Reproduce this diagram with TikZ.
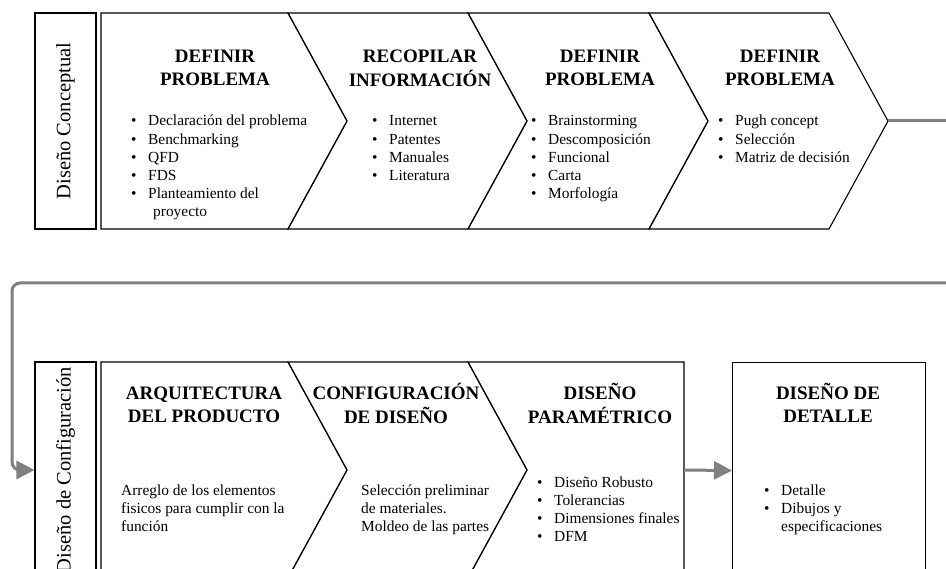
\documentclass[tikz,border=0pt]{standalone}
\usepackage{fontspec}
\setmainfont{Liberation Serif}
\usetikzlibrary{arrows.meta}
\newcommand\itm{\makebox[17pt][l]{\textbullet}}
\begin{document}
\begin{tikzpicture}[x=1pt,y=-1pt,
  chev/.style={draw=black, line width=1.1pt, line join=miter},
  ttl/.style={anchor=base, inner sep=0pt, font=\fontsize{19}{22.5}\selectfont\bfseries},
  lst/.style={anchor=base west, inner sep=0pt, font=\fontsize{15.4}{18.2}\selectfont},
  vlab/.style={rotate=90, inner sep=0pt, font=\fontsize{20.5}{24}\selectfont},
  labbox/.style={draw, line width=1.1pt, minimum width=61pt, minimum height=216pt, inner sep=0pt},
  conn/.style={draw=gray, line width=3pt},
  arr/.style={-{Triangle[length=18pt,width=18pt]}}
]
\clip (0,0) rectangle (946,569);
\fill[white] (0,0) rectangle (946,569);

% ---------- top row ----------
\node[labbox] (lab1) at (65.5,121) {};
\node[vlab] (v1) at (lab1.center) {Diseño Conceptual};

\draw[chev] (101,13) -- (288,13) -- (347,121) -- (288,229) -- (101,229) -- cycle;
\draw[chev] (288,13) -- (468,13) -- (527,121) -- (468,229) -- (288,229) -- (347,121) -- cycle;
\draw[chev] (468,13) -- (649,13) -- (708,121) -- (649,229) -- (468,229) -- (527,121) -- cycle;
\draw[chev] (649,13) -- (829,13) -- (888,121) -- (829,229) -- (649,229) -- (708,121) -- cycle;

\node[ttl] (t1) at (215,63) {\begin{tabular}[t]{@{}c@{}}DEFINIR\\PROBLEMA\end{tabular}};
\node[lst] (l1) at (131,126) {\begin{tabular}[t]{@{}l@{}}\itm Declaración del problema\\ \itm Benchmarking\\ \itm QFD\\ \itm FDS\\ \itm Planteamiento del\\ \hspace*{22pt}proyecto\end{tabular}};

\node[ttl] (t2) at (420,63) {\begin{tabular}[t]{@{}c@{}}RECOPILAR\\INFORMACIÓN\end{tabular}};
\node[lst] (l2) at (372,126) {\begin{tabular}[t]{@{}l@{}}\itm Internet\\ \itm Patentes\\ \itm Manuales\\ \itm Literatura\end{tabular}};

\node[ttl] (t3) at (600,63) {\begin{tabular}[t]{@{}c@{}}DEFINIR\\PROBLEMA\end{tabular}};
\node[lst] (l3) at (531,126) {\begin{tabular}[t]{@{}l@{}}\itm Brainstorming\\ \itm Descomposición\\ \itm Funcional\\ \itm Carta\\ \itm Morfología\end{tabular}};

\node[ttl] (t4) at (780,63) {\begin{tabular}[t]{@{}c@{}}DEFINIR\\PROBLEMA\end{tabular}};
\node[lst] (l4) at (718,126) {\begin{tabular}[t]{@{}l@{}}\itm Pugh concept\\ \itm Selección\\ \itm Matriz de decisión\end{tabular}};

\coordinate (c4tip) at (888,121);
\coordinate (rend1) at (952,121);
\draw[conn] (c4tip) -- (rend1);

% ---------- bottom row ----------
\node[labbox] (lab2) at (65.5,470) {};
\node[vlab] (v2) at (lab2.center) {Diseño de Configuración};

\draw[chev] (101,362) -- (288,362) -- (347,470) -- (288,578) -- (101,578) -- cycle;
\draw[chev] (288,362) -- (468,362) -- (527,470) -- (468,578) -- (288,578) -- (347,470) -- cycle;
\draw[chev] (468,362) -- (684,362) -- (684,578) -- (468,578) -- (527,470) -- cycle;
\node[labbox, minimum width=193pt, anchor=north west] (b4) at (732,362) {};

\node[ttl] (t5) at (204,400) {\begin{tabular}[t]{@{}c@{}}ARQUITECTURA\\DEL PRODUCTO\end{tabular}};
\node[lst] (p5) at (121,495) {\begin{tabular}[t]{@{}l@{}}Arreglo de los elementos\\ fisicos para cumplir con la\\ función\end{tabular}};

\node[ttl] (t6) at (396,400) {\begin{tabular}[t]{@{}c@{}}CONFIGURACIÓN\\DE DISEÑO\end{tabular}};
\node[lst] (p6) at (361,495) {\begin{tabular}[t]{@{}l@{}}Selección preliminar\\ de materiales.\\ Moldeo de las partes\end{tabular}};

\node[ttl] (t7) at (600,400) {\begin{tabular}[t]{@{}c@{}}DISEÑO\\PARAMÉTRICO\end{tabular}};
\node[lst] (l7) at (537,487) {\begin{tabular}[t]{@{}l@{}}\itm Diseño Robusto\\ \itm Tolerancias\\ \itm Dimensiones finales\\ \itm DFM\end{tabular}};

\node[ttl] (t8) at (828,400) {\begin{tabular}[t]{@{}c@{}}DISEÑO DE\\DETALLE\end{tabular}};
\node[lst] (l8) at (764,495) {\begin{tabular}[t]{@{}l@{}}\itm Detalle\\ \itm Dibujos y\\ \hspace*{17pt}especificaciones\end{tabular}};

\coordinate (b3e) at (684,470);
\draw[conn, arr] (b3e) -- (b4.west);

\coordinate (rend2) at (952,283);
\draw[conn, arr, rounded corners=8pt] (rend2) -- (12,283) |- (lab2.west);
\end{tikzpicture}
\end{document}
